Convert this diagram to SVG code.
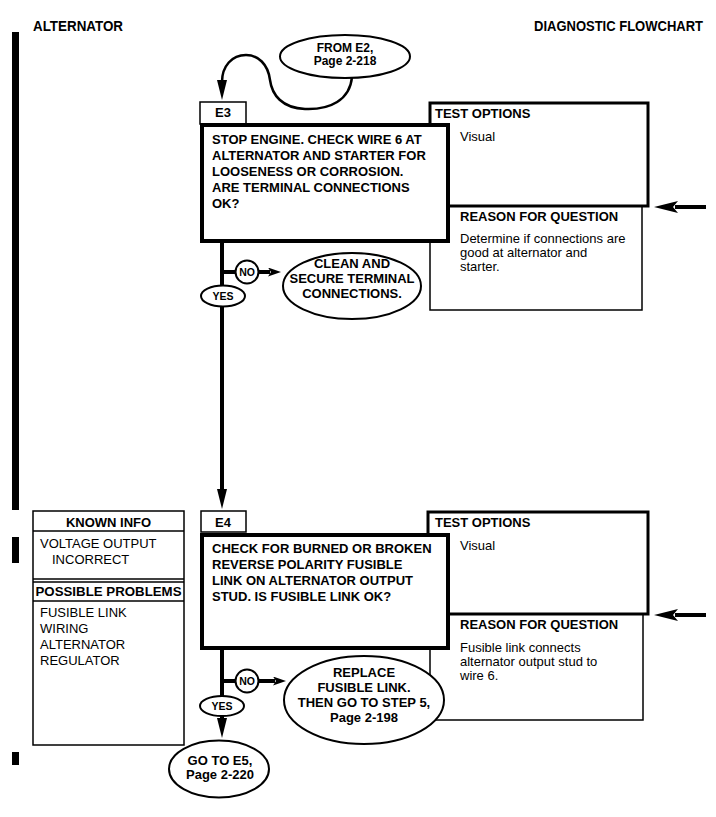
<svg xmlns="http://www.w3.org/2000/svg" width="716" height="817" viewBox="0 0 716 817">
<defs>
<style>
text{font-family:"Liberation Sans",Arial,sans-serif;fill:#000}
.hdr{font-size:14px;font-weight:bold}
.b13{font-size:13px;font-weight:bold}
.b12{font-size:12px;font-weight:bold}
.r13{font-size:13px}
.lbl{font-size:10.5px;font-weight:bold}
.mid{text-anchor:middle}
.thin{fill:#fff;stroke:#000;stroke-width:1.5}
.thick{fill:#fff;stroke:#000;stroke-width:4}
.med{fill:#fff;stroke:#000;stroke-width:3}
.ell{fill:#fff;stroke:#000;stroke-width:2}
.line{fill:none;stroke:#000;stroke-width:4}
.curve{fill:none;stroke:#000;stroke-width:2.5}
.bar{fill:#000}
</style>
<marker id="arrowV" markerUnits="userSpaceOnUse" viewBox="0 0 20 10" markerWidth="20" markerHeight="10" refX="2" refY="5" orient="auto"><path d="M0,0 L20,5 L0,10 z" fill="#000"/></marker>
<marker id="arrowS" markerUnits="userSpaceOnUse" viewBox="0 0 13 9" markerWidth="13" markerHeight="9" refX="2" refY="4.5" orient="auto"><path d="M0,0 L13,4.5 L0,9 L3,4.5 z" fill="#000"/></marker>
<marker id="arrowR" markerUnits="userSpaceOnUse" viewBox="0 0 24 12" markerWidth="24" markerHeight="12" refX="3" refY="6" orient="auto"><path d="M0,0 L24,6 L0,12 L5,6 z" fill="#000"/></marker>
</defs>
<rect width="716" height="817" fill="#fff"/>

<g id="page-header">
<text class="hdr" x="33" y="31" textLength="90" lengthAdjust="spacingAndGlyphs">ALTERNATOR</text>
<text class="hdr" x="534" y="31" textLength="169" lengthAdjust="spacingAndGlyphs">DIAGNOSTIC FLOWCHART</text>
<rect class="bar" x="12" y="32" width="7" height="478"/>
<rect class="bar" x="12" y="537" width="7" height="26"/>
<rect class="bar" x="12" y="752" width="7" height="13"/>
</g>

<g id="connectors">
<path class="curve" d="M352,77 C350,100 330,110 305,109 C282,108 272,95 270,80 C268,64 258,55 246,55 C232,55 222,66 222,82" marker-end="url(#arrowV)"/>
<path class="line" d="M222,243 L222,491" marker-end="url(#arrowV)"/>
<path class="line" d="M222,272 L236,272"/>
<path class="line" d="M258,272 L270,272" marker-end="url(#arrowS)"/>
<path class="line" d="M222,650 L222,720" marker-end="url(#arrowV)"/>
<path class="line" d="M222,681 L236,681"/>
<path class="line" d="M258,681 L275,681" marker-end="url(#arrowS)"/>
<path class="line" d="M706,207 L675,207" marker-end="url(#arrowR)"/>
<path class="line" d="M706,615 L675,615" marker-end="url(#arrowR)"/>
</g>

<g id="from-e2">
<ellipse class="ell" cx="345" cy="56.5" rx="65" ry="21.5"/>
<text class="b12 mid" x="345" y="52">FROM E2,</text>
<text class="b12 mid" x="345" y="65">Page 2-218</text>
</g>

<g id="e3-options">
<rect class="thin" x="430" y="206" width="212" height="104"/>
<rect class="med" x="430" y="103" width="218" height="103"/>
<text class="b13" x="435" y="118">TEST OPTIONS</text>
<text class="r13" x="460" y="141">Visual</text>
<text class="b13" x="460" y="221">REASON FOR QUESTION</text>
<text class="r13" x="460" y="243">Determine if connections are</text>
<text class="r13" x="460" y="257">good at alternator and</text>
<text class="r13" x="460" y="271">starter.</text>
</g>

<g id="e3">
<rect class="thin" x="200" y="102" width="46" height="22"/>
<text class="b13 mid" x="223" y="117">E3</text>
<rect class="thick" x="202" y="125" width="246" height="116"/>
<text class="b13" x="212" y="144">STOP ENGINE. CHECK WIRE 6 AT</text>
<text class="b13" x="212" y="160">ALTERNATOR AND STARTER FOR</text>
<text class="b13" x="212" y="176">LOOSENESS OR CORROSION.</text>
<text class="b13" x="212" y="192">ARE TERMINAL CONNECTIONS</text>
<text class="b13" x="212" y="208">OK?</text>
</g>

<g id="e3-no">
<circle class="ell" cx="247" cy="272" r="11.5"/>
<text class="lbl mid" x="247" y="276">NO</text>
</g>
<g id="e3-yes">
<ellipse class="ell" cx="223" cy="296" rx="22" ry="10.5"/>
<text class="lbl mid" x="223" y="300">YES</text>
</g>
<g id="clean-terminals">
<ellipse class="ell" cx="352" cy="286" rx="69" ry="33"/>
<text class="b13 mid" x="352" y="268">CLEAN AND</text>
<text class="b13 mid" x="352" y="283">SECURE TERMINAL</text>
<text class="b13 mid" x="352" y="298">CONNECTIONS.</text>
</g>

<g id="known-info">
<rect class="thin" x="33" y="511" width="151" height="234"/>
<line x1="33" y1="531" x2="184" y2="531" stroke="#000" stroke-width="1.5"/>
<line x1="33" y1="579" x2="184" y2="579" stroke="#000" stroke-width="1.5"/>
<line x1="33" y1="582" x2="184" y2="582" stroke="#000" stroke-width="1.5"/>
<line x1="33" y1="601" x2="184" y2="601" stroke="#000" stroke-width="1.5"/>
<text class="b13 mid" x="108.5" y="527">KNOWN INFO</text>
<text class="r13" x="40" y="548">VOLTAGE OUTPUT</text>
<text class="r13" x="52" y="564">INCORRECT</text>
<text class="b13" x="35.5" y="596" textLength="146" lengthAdjust="spacingAndGlyphs">POSSIBLE PROBLEMS</text>
<text class="r13" x="40" y="617">FUSIBLE LINK</text>
<text class="r13" x="40" y="633">WIRING</text>
<text class="r13" x="40" y="649">ALTERNATOR</text>
<text class="r13" x="40" y="665">REGULATOR</text>
</g>

<g id="e4-options">
<rect class="thin" x="430" y="614" width="213" height="106"/>
<rect class="med" x="428" y="512" width="220" height="102"/>
<text class="b13" x="435" y="527">TEST OPTIONS</text>
<text class="r13" x="460" y="550">Visual</text>
<text class="b13" x="460" y="629">REASON FOR QUESTION</text>
<text class="r13" x="460" y="652">Fusible link connects</text>
<text class="r13" x="460" y="666">alternator output stud to</text>
<text class="r13" x="460" y="680">wire 6.</text>
</g>

<g id="e4">
<rect class="thin" x="201" y="511" width="45" height="21"/>
<text class="b13 mid" x="223" y="527">E4</text>
<rect class="thick" x="202" y="535" width="246" height="113"/>
<text class="b13" x="212" y="553">CHECK FOR BURNED OR BROKEN</text>
<text class="b13" x="212" y="569">REVERSE POLARITY FUSIBLE</text>
<text class="b13" x="212" y="585">LINK ON ALTERNATOR OUTPUT</text>
<text class="b13" x="212" y="601">STUD. IS FUSIBLE LINK OK?</text>
</g>

<g id="e4-no">
<circle class="ell" cx="247" cy="681" r="11.5"/>
<text class="lbl mid" x="247" y="685">NO</text>
</g>
<g id="e4-yes">
<ellipse class="ell" cx="222" cy="706" rx="22" ry="10"/>
<text class="lbl mid" x="222" y="710">YES</text>
</g>
<g id="replace-fusible-link">
<ellipse class="ell" cx="364" cy="700" rx="80" ry="44"/>
<text class="b13 mid" x="364" y="677">REPLACE</text>
<text class="b13 mid" x="364" y="692">FUSIBLE LINK.</text>
<text class="b13 mid" x="364" y="707">THEN GO TO STEP 5,</text>
<text class="b13 mid" x="364" y="722">Page 2-198</text>
</g>
<g id="go-to-e5">
<ellipse class="ell" cx="219" cy="769" rx="50" ry="28.5"/>
<text class="b13 mid" x="220" y="765">GO TO E5,</text>
<text class="b13 mid" x="220" y="779">Page 2-220</text>
</g>
</svg>
